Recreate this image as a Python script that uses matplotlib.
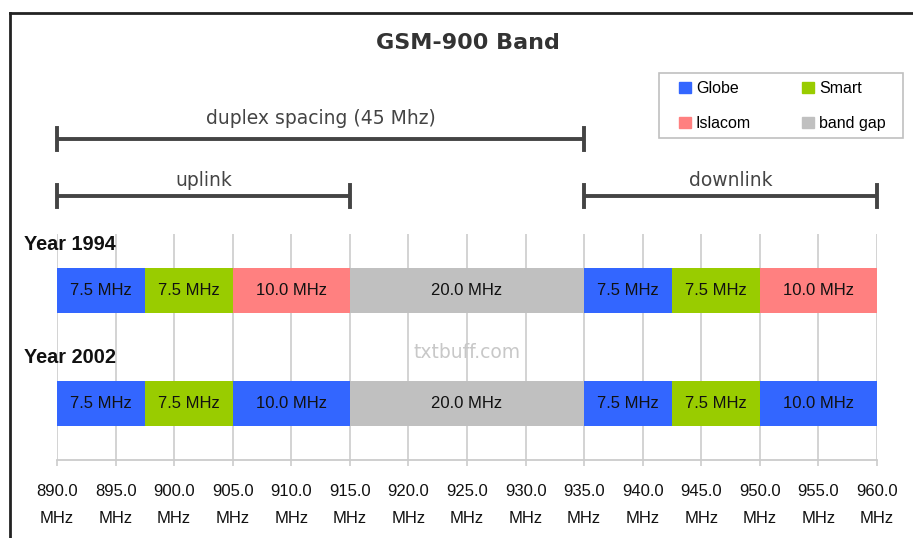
import matplotlib
matplotlib.use("Agg")
import matplotlib.pyplot as plt
import matplotlib.transforms as mtransforms
from matplotlib.patches import Patch, Rectangle
from matplotlib.lines import Line2D

plt.rcParams['font.family'] = ['Liberation Sans', 'DejaVu Sans']

# data
years = ['Year 1994', 'Year 2002']
band_start = 890.0
widths = [7.5, 7.5, 10.0, 20.0, 7.5, 7.5, 10.0]
owners_1994 = ['Globe', 'Smart', 'Islacom', 'band gap', 'Globe', 'Smart', 'Islacom']
owners_2002 = ['Globe', 'Smart', 'Globe', 'band gap', 'Globe', 'Smart', 'Globe']
owners = [owners_1994, owners_2002]
colors = {'Globe': '#3366ff', 'Smart': '#99cc00', 'Islacom': '#ff8080', 'band gap': '#c0c0c0'}
ticks = list(range(890, 961, 5))
spans = [('duplex spacing (45 Mhz)', 890, 935, 0), ('uplink', 890, 915, 1), ('downlink', 935, 960, 1)]

W, H = 913, 538
fig = plt.figure(figsize=(W / 100, H / 100), dpi=100)
ax = fig.add_axes([57 / W, 1 - 460 / H, 820 / W, 226 / H])

ypos = [1.5, 0.5]
for yi, row in zip(ypos, owners):
    left = band_start
    for w, o in zip(widths, row):
        ax.barh(yi, w, left=left, height=0.4, color=colors[o], zorder=3)
        ax.text(left + w / 2, yi, '%.1f MHz' % w, ha='center', va='center',
                fontsize=12, color='#111111', zorder=4)
        left += w

ax.set_xlim(890, 960)
ax.set_ylim(0, 2)
ax.set_yticks([])
ax.set_xticks(ticks)
ax.set_xticklabels(['%.1f\nMHz' % t for t in ticks], linespacing=2.0)
ax.tick_params(axis='x', length=4.5, width=1.2, color='#cccccc', pad=13, labelsize=12,
               labelcolor='#111111')
ax.grid(axis='x', color='#d0d0d0', linewidth=1.3, zorder=0)
for s in ['top', 'left', 'right']:
    ax.spines[s].set_visible(False)
ax.spines['bottom'].set_color('#cccccc')
ax.spines['bottom'].set_linewidth(1.3)

# year labels
trans = mtransforms.blended_transform_factory(fig.transFigure, ax.transData)
for yi, lab in zip(ypos, years):
    ax.text(24 / W, yi + 0.41, lab, transform=trans, ha='left', va='center',
            fontsize=14.3, fontweight='bold', color='#111111')

# bracket annotations above the axes (in data units)
px = 2.0 / 226
bracket_y = [2 + (234 - 139) * px, 2 + (234 - 196) * px]
text_y = [2 + (234 - 118) * px, 2 + (234 - 180) * px]
for lab, x0, x1, lvl in spans:
    y = bracket_y[lvl]
    ax.plot([x0, x1], [y, y], color='#444444', lw=2.8, clip_on=False, solid_capstyle='butt')
    for xe in (x0, x1):
        ax.plot([xe, xe], [y - 11 * px, y + 11 * px], color='#444444', lw=2.8, clip_on=False)
    ax.text((x0 + x1) / 2, text_y[lvl], lab, ha='center', va='center', fontsize=13.5,
            family='DejaVu Sans', color='#444444')

# watermark
ax.text(925, 2 - (353 - 234) * px, 'txtbuff.com', ha='center', va='center', fontsize=13.5,
        family='DejaVu Sans', color='#c8c8c8', zorder=2)

fig.text(468 / W, 1 - 43 / H, 'GSM-900 Band', ha='center', va='center', fontsize=16,
         fontweight='bold', family='DejaVu Sans', color='#333333')

# legend: frame drawn separately so the padding matches
fig.add_artist(Rectangle((659 / W, 1 - 138 / H), 244 / W, 65 / H, transform=fig.transFigure,
                         facecolor='white', edgecolor='#c0c0c0', lw=1.2))
handles = [Patch(color=colors[k], label=k) for k in ['Globe', 'Islacom', 'Smart', 'band gap']]
leg = fig.legend(handles=handles, ncol=2, loc='upper left', bbox_to_anchor=(679 / W, 1 - 81 / H),
                 fontsize=11.5, frameon=False, handlelength=0.75, handleheight=0.75,
                 handletextpad=0.3, columnspacing=3.2, labelspacing=1.25, borderpad=0,
                 borderaxespad=0)

# outer frame
fig.add_artist(Line2D([10 / W, 1], [1 - 13 / H, 1 - 13 / H], transform=fig.transFigure,
                      color='#222222', lw=2))
fig.add_artist(Line2D([10 / W, 10 / W], [0, 1 - 13 / H], transform=fig.transFigure,
                      color='#222222', lw=2))

fig.savefig('out.png', dpi=100)
